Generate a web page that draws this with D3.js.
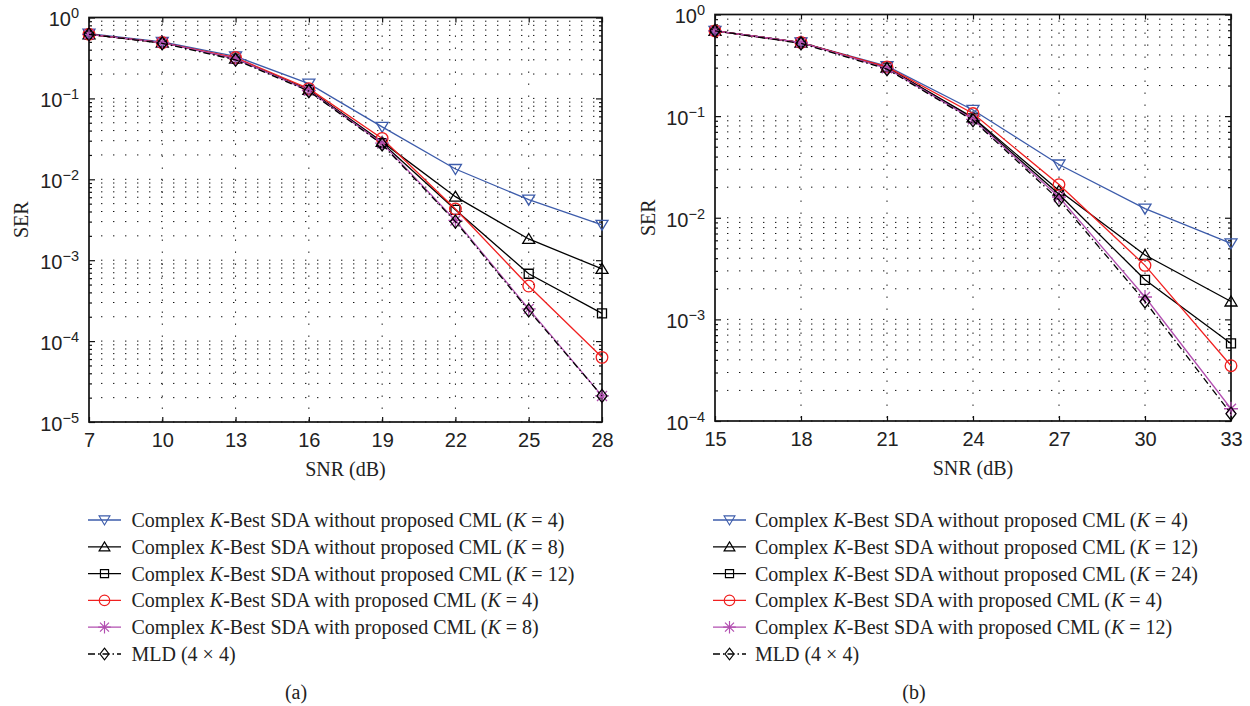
<!DOCTYPE html>
<html>
<head>
<meta charset="utf-8">
<script src="https://cdn.jsdelivr.net/npm/d3@7"></script>
<style>
  body { margin: 0; background: #fff; }
  svg { font-family: "Liberation Serif", "DejaVu Serif", serif; }
</style>
</head>
<body>
<div id="wrapper"></div>
<script>
// ---- panel (a) data ----
const snrA = [7, 10, 13, 16, 19, 22, 25, 28];
const serA_noCml4 = [0.63, 0.50, 0.33, 0.152, 0.0445, 0.0134, 0.0056, 0.00274];
const serA_noCml8 = [0.62, 0.49, 0.31, 0.128, 0.029, 0.0061, 0.00183, 0.00078];
const serA_noCml12 = [0.62, 0.49, 0.31, 0.127, 0.028, 0.0042, 0.00068, 0.00022];
const serA_cml4 = [0.62, 0.49, 0.32, 0.132, 0.032, 0.0043, 0.00048, 0.000063];
const serA_cml8 = [0.62, 0.49, 0.31, 0.125, 0.028, 0.0031, 0.00025, 0.000021];
const serA_mld = [0.62, 0.48, 0.30, 0.123, 0.027, 0.0030, 0.00024, 0.000021];
const kA = [4, 8, 12, 4, 8];
const yExpA = [0, -1, -2, -3, -4, -5];

// ---- panel (b) data ----
const snrB = [15, 18, 21, 24, 27, 30, 33];
const serB_noCml4 = [0.69, 0.53, 0.31, 0.115, 0.0334, 0.0123, 0.0056];
const serB_noCml12 = [0.69, 0.53, 0.30, 0.097, 0.0185, 0.0043, 0.0015];
const serB_noCml24 = [0.69, 0.53, 0.30, 0.095, 0.017, 0.00245, 0.00058];
const serB_cml4 = [0.69, 0.53, 0.305, 0.106, 0.0212, 0.0034, 0.00035];
const serB_cml12 = [0.69, 0.53, 0.295, 0.093, 0.016, 0.00166, 0.000132];
const serB_mld = [0.69, 0.52, 0.29, 0.091, 0.015, 0.0015, 0.000118];
const kB = [4, 12, 24, 4, 12];
const yExpB = [0, -1, -2, -3, -4];

const methods = ["without", "without", "without", "with", "with"];

// series look, shared by both panels
const styles = [
  { color: "#3d5cab", marker: "tri-down", dash: null },
  { color: "#000", marker: "tri-up", dash: null },
  { color: "#000", marker: "square", dash: null },
  { color: "#f02020", marker: "circle", dash: null },
  { color: "#b24fb0", marker: "star", dash: null },
  { color: "#000", marker: "diamond", dash: "7,3,1.5,3" }
];

function markerPath(type) {
  const p = d3.path();
  if (type === "tri-down") {
    p.moveTo(-6, -4.5); p.lineTo(6, -4.5); p.lineTo(0, 5.5); p.closePath();
  } else if (type === "tri-up") {
    p.moveTo(-6, 4.5); p.lineTo(6, 4.5); p.lineTo(0, -5.5); p.closePath();
  } else if (type === "square") {
    p.rect(-4.5, -4.5, 9, 9);
  } else if (type === "circle") {
    p.arc(0, 0, 5.8, 0, 2 * Math.PI);
  } else if (type === "diamond") {
    p.moveTo(0, -6.5); p.lineTo(5, 0); p.lineTo(0, 6.5); p.lineTo(-5, 0); p.closePath();
  } else if (type === "star") {
    const r = 7, q = 5;
    p.moveTo(-r, 0); p.lineTo(r, 0);
    p.moveTo(0, -r); p.lineTo(0, r);
    p.moveTo(-q, -q); p.lineTo(q, q);
    p.moveTo(-q, q); p.lineTo(q, -q);
  }
  return p.toString();
}

const svg = d3.select("#wrapper").append("svg")
  .attr("width", 1250)
  .attr("height", 706);

function drawPanel(cfg) {
  const { left, top, right, bottom } = cfg.box;
  const xScale = d3.scaleLinear()
    .domain(d3.extent(cfg.snr))
    .range([left, right]);
  const yScale = d3.scaleLog()
    .domain([Math.pow(10, d3.min(cfg.yExp)), 1])
    .range([bottom, top]);

  const majorY = cfg.yExp.map(e => Math.pow(10, e));
  const minorY = [];
  cfg.yExp.slice(1).forEach(e => {
    for (let m = 2; m <= 9; m++) minorY.push(m * Math.pow(10, e));
  });

  const g = svg.append("g");

  // dotted grid
  const grid = g.append("g")
    .attr("stroke", "#111")
    .attr("stroke-width", 1)
    .attr("stroke-dasharray", "1.4,10.6");
  grid.selectAll(".hgrid")
    .data(majorY.concat(minorY))
    .join("line")
    .attr("x1", left + 12).attr("x2", right)
    .attr("y1", d => yScale(d)).attr("y2", d => yScale(d));
  grid.selectAll(".vgrid")
    .data(cfg.snr.slice(1, -1))
    .join("line")
    .attr("x1", d => xScale(d)).attr("x2", d => xScale(d))
    .attr("y1", top + 6).attr("y2", bottom);

  // axes with inward ticks
  const xBottom = g.append("g")
    .attr("transform", `translate(0,${bottom})`)
    .call(d3.axisBottom(xScale).tickValues(cfg.snr).tickSizeInner(-5).tickSizeOuter(0).tickPadding(11));
  xBottom.selectAll("text").style("font-size", "20px").attr("fill", "#222");
  g.append("g")
    .attr("transform", `translate(0,${top})`)
    .call(d3.axisTop(xScale).tickValues(cfg.snr).tickSizeInner(-5).tickSizeOuter(0).tickFormat(""));

  const yLeft = g.append("g")
    .attr("transform", `translate(${left},0)`)
    .call(d3.axisLeft(yScale).tickValues(majorY).tickSizeInner(-6).tickSizeOuter(0).tickPadding(10).tickFormat(""));
  g.append("g")
    .attr("transform", `translate(${left},0)`)
    .call(d3.axisLeft(yScale).tickValues(minorY).tickSizeInner(-3).tickSizeOuter(0).tickFormat(""));
  g.append("g")
    .attr("transform", `translate(${right},0)`)
    .call(d3.axisRight(yScale).tickValues(majorY).tickSizeInner(-6).tickSizeOuter(0).tickFormat(""));
  g.append("g")
    .attr("transform", `translate(${right},0)`)
    .call(d3.axisRight(yScale).tickValues(minorY).tickSizeInner(-3).tickSizeOuter(0).tickFormat(""));
  g.selectAll(".domain").remove();
  g.selectAll(".tick line").attr("stroke", "#111").attr("stroke-width", 1.2);

  // y tick labels as 10^e
  yLeft.selectAll(".tick text").each(function (d) {
    const t = d3.select(this)
      .attr("dy", "0.42em")
      .attr("fill", "#222")
      .style("font-size", "20px");
    t.append("tspan").text("10");
    t.append("tspan")
      .attr("dy", "-0.55em")
      .style("font-size", "14.5px")
      .text(Math.round(Math.log10(d)) === 0 ? "0" : "\u2212" + (-Math.round(Math.log10(d))));
  });

  // box
  g.append("rect")
    .attr("x", left).attr("y", top)
    .attr("width", right - left).attr("height", bottom - top)
    .attr("fill", "none").attr("stroke", "#111").attr("stroke-width", 1.7);

  // series
  const line = d3.line()
    .x(d => xScale(d[0]))
    .y(d => yScale(d[1]));
  cfg.series.forEach((vals, i) => {
    const st = styles[i];
    const pts = cfg.snr.map((s, j) => [s, vals[j]]);
    g.append("path")
      .datum(pts)
      .attr("d", line)
      .attr("fill", "none")
      .attr("stroke", st.color)
      .attr("stroke-width", 1.3)
      .attr("stroke-dasharray", st.dash);
    g.selectAll(null)
      .data(pts)
      .join("path")
      .attr("transform", d => `translate(${xScale(d[0])},${yScale(d[1])})`)
      .attr("d", markerPath(st.marker))
      .attr("fill", "none")
      .attr("stroke", st.color)
      .attr("stroke-width", 1.3);
  });

  // axis titles
  g.append("text")
    .attr("x", (left + right) / 2)
    .attr("y", bottom + 54)
    .attr("text-anchor", "middle")
    .attr("fill", "#222")
    .style("font-size", "20px")
    .text("SNR (dB)");
  g.append("text")
    .attr("transform", `translate(${cfg.serX},${(top + bottom) / 2}) rotate(-90)`)
    .attr("text-anchor", "middle")
    .attr("fill", "#222")
    .style("font-size", "20px")
    .text("SER");

  // legend
  const leg = g.append("g");
  const rowH = 26.8;
  const labels = cfg.ks.map((k, i) => ({ method: methods[i], k: k }));
  labels.push(null);
  labels.forEach((lab, i) => {
    const st = styles[i];
    const cy = cfg.legend.y + i * rowH;
    leg.append("line")
      .attr("x1", cfg.legend.x0).attr("x2", cfg.legend.x1)
      .attr("y1", cy).attr("y2", cy)
      .attr("stroke", st.color)
      .attr("stroke-width", 1.3)
      .attr("stroke-dasharray", st.dash);
    leg.append("path")
      .attr("transform", `translate(${(cfg.legend.x0 + cfg.legend.x1) / 2},${cy}) scale(0.9)`)
      .attr("d", markerPath(st.marker))
      .attr("fill", "none")
      .attr("stroke", st.color)
      .attr("stroke-width", 1.3);
    const t = leg.append("text")
      .attr("x", cfg.legend.tx)
      .attr("y", cy + 7)
      .attr("fill", "#222")
      .style("font-size", "20px");
    if (lab) {
      t.append("tspan").text("Complex ");
      t.append("tspan").style("font-style", "italic").text("K");
      t.append("tspan").text(`-Best SDA ${lab.method} proposed CML (`);
      t.append("tspan").style("font-style", "italic").text("K");
      t.append("tspan").text(` = ${lab.k})`);
    } else {
      t.text("MLD (4 \u00d7 4)");
    }
  });

  g.append("text")
    .attr("x", cfg.caption.x)
    .attr("y", cfg.caption.y)
    .attr("text-anchor", "middle")
    .attr("fill", "#222")
    .style("font-size", "20px")
    .text(cfg.caption.text);
}

drawPanel({
  box: { left: 89, top: 17.5, right: 602, bottom: 422 },
  snr: snrA,
  yExp: yExpA,
  series: [serA_noCml4, serA_noCml8, serA_noCml12, serA_cml4, serA_cml8, serA_mld],
  ks: kA,
  serX: 28,
  legend: { x0: 88, x1: 121, tx: 131.5, y: 520 },
  caption: { x: 296, y: 699, text: "(a)" }
});

drawPanel({
  box: { left: 715, top: 14.5, right: 1231, bottom: 421 },
  snr: snrB,
  yExp: yExpB,
  series: [serB_noCml4, serB_noCml12, serB_noCml24, serB_cml4, serB_cml12, serB_mld],
  ks: kB,
  serX: 655,
  legend: { x0: 713, x1: 746, tx: 755, y: 520 },
  caption: { x: 914, y: 699, text: "(b)" }
});
</script>
</body>
</html>
